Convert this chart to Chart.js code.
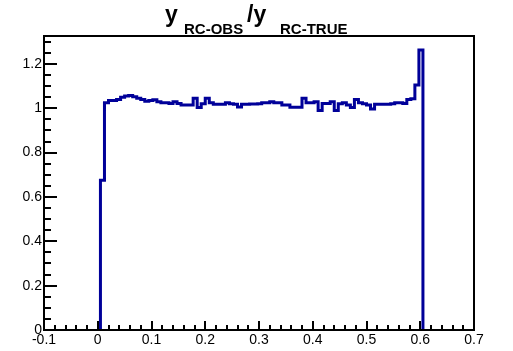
<!DOCTYPE html>
<html>
<head>
<meta charset="utf-8">
<script src="https://cdn.jsdelivr.net/npm/chart.js@4/dist/chart.umd.min.js"></script>
<style>
  html, body { margin: 0; padding: 0; background: #fff; }
  #wrap { width: 513px; height: 351px; }
</style>
</head>
<body>
<div id="wrap"><canvas id="c" width="513" height="351"></canvas></div>
<script>
// histogram: 80 bins from 0.005 to 0.605
var binLow = 0.005;
var binHigh = 0.605;
var binValues = [
  0.675, 1.025, 1.035, 1.035, 1.04, 1.05, 1.055, 1.058, 1.052, 1.045,
  1.04, 1.032, 1.035, 1.038, 1.03, 1.025, 1.025, 1.022, 1.03, 1.022,
  1.015, 1.015, 1.015, 1.045, 1.004, 1.02, 1.045, 1.025, 1.018, 1.018,
  1.018, 1.025, 1.02, 1.018, 1.006, 1.018, 1.018, 1.019, 1.019, 1.02,
  1.025, 1.025, 1.03, 1.025, 1.025, 1.015, 1.015, 1.005, 1.005, 1.005,
  1.045, 1.025, 1.025, 1.03, 0.99, 1.022, 1.022, 1.03, 0.99, 1.02,
  1.025, 1.015, 1.004, 1.04, 1.025, 1.02, 1.015, 0.997, 1.018, 1.018,
  1.018, 1.018, 1.02, 1.025, 1.025, 1.022, 1.04, 1.043, 1.105, 1.263
];
var xTicks = [-0.1, 0, 0.1, 0.2, 0.3, 0.4, 0.5, 0.6, 0.7];
var yTicks = [0, 0.2, 0.4, 0.6, 0.8, 1, 1.2];
var xMinor = 0.02;
var yMinor = 0.05;
var yMax = 1.326;

// outline points for the stepped line
var nb = binValues.length;
var bw = (binHigh - binLow) / nb;
var pts = [{x: binLow, y: 0}];
for (var i = 0; i < nb; i++) {
  pts.push({x: binLow + i * bw, y: binValues[i]});
}
pts.push({x: binHigh, y: binValues[nb - 1]});
pts.push({x: binHigh, y: 0});

// ROOT style frame + inward ticks + title
var rootFrame = {
  id: 'rootFrame',
  afterDraw: function(chart) {
    var ctx = chart.ctx;
    var a = chart.chartArea;
    var xs = chart.scales.x, ys = chart.scales.y;
    ctx.save();
    ctx.strokeStyle = '#000';
    ctx.lineWidth = 2;
    ctx.strokeRect(a.left, a.top, a.right - a.left, a.bottom - a.top);
    ctx.beginPath();
    // x ticks
    var v;
    for (v = -0.1; v <= 0.7001; v += xMinor) {
      var px = Math.round(xs.getPixelForValue(v));
      var major = Math.abs(v * 10 - Math.round(v * 10)) < 1e-6;
      var len = major ? 9 : 5;
      ctx.moveTo(px, a.bottom);
      ctx.lineTo(px, a.bottom - len);
    }
    // y ticks
    for (v = 0; v <= yMax; v += yMinor) {
      var py = Math.round(ys.getPixelForValue(v));
      var maj = Math.abs(v * 5 - Math.round(v * 5)) < 1e-6;
      var l2 = maj ? 13 : 7;
      ctx.moveTo(a.left, py);
      ctx.lineTo(a.left + l2, py);
    }
    ctx.stroke();

    // title  y_{RC-OBS}/y_{RC-TRUE}
    ctx.fillStyle = '#000';
    ctx.textBaseline = 'alphabetic';
    ctx.textAlign = 'left';
    ctx.font = 'bold 23px "Liberation Sans", Arial, sans-serif';
    ctx.fillText('y', 165, 22);
    ctx.fillText('/y', 247, 22);
    ctx.font = 'bold 15px "Liberation Sans", Arial, sans-serif';
    ctx.fillText('RC-OBS', 184, 34);
    ctx.fillText('RC-TRUE', 280, 34);
    ctx.restore();
  }
};

var ctx = document.getElementById('c').getContext('2d');
var chart = new Chart(ctx, {
  type: 'line',
  data: {
    datasets: [{
      data: pts,
      stepped: 'before',
      borderColor: '#000099',
      borderWidth: 3,
      pointRadius: 0,
      fill: false
    }]
  },
  options: {
    responsive: false,
    animation: false,
    layout: { padding: { left: 0, right: 39, top: 36, bottom: 0 } },
    plugins: {
      legend: { display: false },
      tooltip: { enabled: false },
      title: { display: false }
    },
    scales: {
      x: {
        type: 'linear',
        min: -0.1,
        max: 0.7,
        grid: { display: false, drawTicks: false },
        border: { display: false },
        afterBuildTicks: function(s) {
          s.ticks = xTicks.map(function(t) { return {value: t}; });
        },
        afterFit: function(s) { s.height = 21; },
        ticks: {
          padding: 2,
          maxRotation: 0,
          autoSkip: false,
          color: '#000',
          font: { family: '"Liberation Sans", Arial, sans-serif', size: 14 },
          callback: function(v) { return String(Math.round(v * 10) / 10); }
        }
      },
      y: {
        type: 'linear',
        min: 0,
        max: yMax,
        grid: { display: false, drawTicks: false },
        border: { display: false },
        afterBuildTicks: function(s) {
          s.ticks = yTicks.map(function(t) { return {value: t}; });
        },
        afterFit: function(s) { s.width = 44; },
        ticks: {
          padding: 2,
          autoSkip: false,
          color: '#000',
          font: { family: '"Liberation Sans", Arial, sans-serif', size: 14 },
          callback: function(v) { return String(Math.round(v * 10) / 10); }
        }
      }
    }
  },
  plugins: [rootFrame]
});
</script>
</body>
</html>
